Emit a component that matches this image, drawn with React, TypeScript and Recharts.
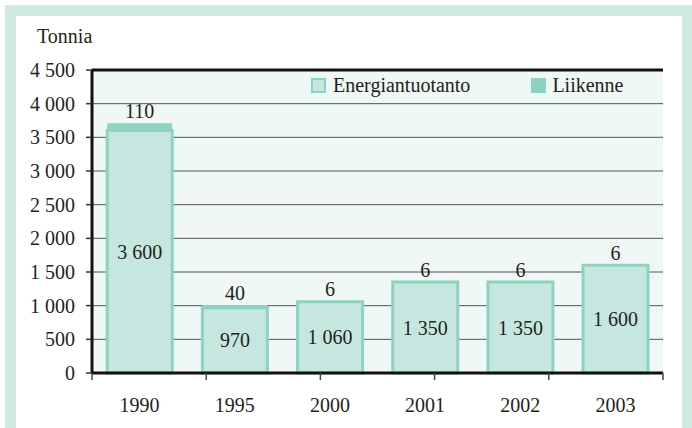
import React from "react";
import {
  BarChart,
  Bar,
  XAxis,
  YAxis,
  CartesianGrid,
  ReferenceLine,
  LabelList,
  Legend,
} from "recharts";

const years = ["1990", "1995", "2000", "2001", "2002", "2003"];
const energiantuotanto = [3600, 970, 1060, 1350, 1350, 1600];
const liikenne = [110, 40, 6, 6, 6, 6];
const yTicks = [0, 500, 1000, 1500, 2000, 2500, 3000, 3500, 4000, 4500];
const boundaryTicks = [0, 1, 2, 3, 4, 5, 6];

const data = years.map((y, i) => ({
  year: y,
  energia: energiantuotanto[i],
  liikenne: liikenne[i],
}));

const FONT = "'Liberation Serif', 'Times New Roman', serif";
const TXT = "#231f20";
const LIGHT = "#c6e7df";
const TEAL = "#8ed2c4";
const EDGE = "a_edges";
const CAT = "b_years";

const fmt = (v: number | string) =>
  String(v).replace(/\B(?=(\d{3})+(?!\d))/g, "\u00A0");

const LegendContent = () => (
  <div
    style={{
      display: "flex",
      alignItems: "center",
      fontFamily: FONT,
      fontSize: 20,
      color: TXT,
      whiteSpace: "nowrap",
    }}
  >
    <span
      style={{
        display: "inline-block",
        width: 11,
        height: 11,
        background: LIGHT,
        border: `2px solid ${TEAL}`,
        marginRight: 7,
      }}
    />
    <span>Energiantuotanto</span>
    <span
      style={{
        display: "inline-block",
        width: 15,
        height: 15,
        background: TEAL,
        marginLeft: 61,
        marginRight: 6,
      }}
    />
    <span>Liikenne</span>
  </div>
);

export default function App() {
  return (
    <div
      style={{
        position: "absolute",
        left: 0,
        top: 0,
        width: 692,
        height: 428,
        background: "#ffffff",
        overflow: "hidden",
      }}
    >
      <div
        style={{
          position: "absolute",
          left: 5,
          top: 5,
          width: 700,
          height: 440,
          background: "#cde9e1",
        }}
      />
      <div
        style={{
          position: "absolute",
          left: 16,
          top: 16,
          width: 666,
          height: 430,
          background: "#ffffff",
        }}
      />
      <div
        style={{
          position: "absolute",
          left: 37,
          top: 25,
          fontFamily: FONT,
          fontSize: 20,
          color: TXT,
        }}
      >
        Tonnia
      </div>
      <div style={{ position: "absolute", left: 0, top: 0 }}>
        <BarChart
          width={692}
          height={428}
          data={data}
          margin={{ top: 70, right: 29, bottom: 0, left: 0 }}
          barCategoryGap="16%"
          style={{ fontFamily: FONT }}
        >
          <CartesianGrid
            vertical={false}
            stroke="#555555"
            strokeWidth={1}
            fill="#eff8f5"
            yAxisId="l"
            xAxisId={CAT}
          />
          <XAxis
            xAxisId={EDGE}
            type="number"
            domain={[0, 6]}
            ticks={boundaryTicks}
            interval={0}
            tickFormatter={() => ""}
            tick={{ fontSize: 1 }}
            tickSize={7}
            tickLine={{ stroke: "#444", strokeWidth: 1.5 }}
            axisLine={{ stroke: "#111", strokeWidth: 3 }}
            height={1}
            allowDataOverflow
          />
          <XAxis
            xAxisId={CAT}
            dataKey="year"
            interval={0}
            tickLine={false}
            axisLine={false}
            height={54}
            tickMargin={18}
            tick={{ fontSize: 20, fill: TXT, fontFamily: FONT }}
          />
          <YAxis
            yAxisId="l"
            domain={[0, 4500]}
            ticks={yTicks}
            interval={0}
            width={92}
            tickSize={6}
            tickMargin={11}
            tickFormatter={fmt}
            tickLine={{ stroke: "#333", strokeWidth: 1.5 }}
            axisLine={{ stroke: "#111", strokeWidth: 3 }}
            tick={{ fontSize: 20, fill: TXT, fontFamily: FONT }}
          />
          <YAxis
            yAxisId="r"
            orientation="right"
            domain={[0, 4500]}
            ticks={yTicks}
            width={0}
            tick={false}
            tickLine={false}
            axisLine={{ stroke: "#111", strokeWidth: 3 }}
          />
          <ReferenceLine
            y={4500}
            yAxisId="l"
            xAxisId={CAT}
            stroke="#111"
            strokeWidth={3}
          />
          <Bar
            dataKey="energia"
            name="Energiantuotanto"
            stackId="a"
            yAxisId="l"
            xAxisId={CAT}
            fill={LIGHT}
            stroke={TEAL}
            strokeWidth={3}
            isAnimationActive={false}
          >
            <LabelList
              dataKey="energia"
              position="center"
              formatter={fmt}
              style={{ fontSize: 20, fill: TXT, fontFamily: FONT }}
            />
          </Bar>
          <Bar
            dataKey="liikenne"
            name="Liikenne"
            stackId="a"
            yAxisId="l"
            xAxisId={CAT}
            fill={TEAL}
            isAnimationActive={false}
          >
            <LabelList
              dataKey="liikenne"
              position="top"
              offset={5}
              formatter={fmt}
              style={{ fontSize: 20, fill: TXT, fontFamily: FONT }}
            />
          </Bar>
          <Legend
            layout="horizontal"
            verticalAlign="middle"
            align="center"
            content={<LegendContent />}
            wrapperStyle={{ left: 311, top: 74, width: "auto" }}
          />
        </BarChart>
      </div>
    </div>
  );
}
